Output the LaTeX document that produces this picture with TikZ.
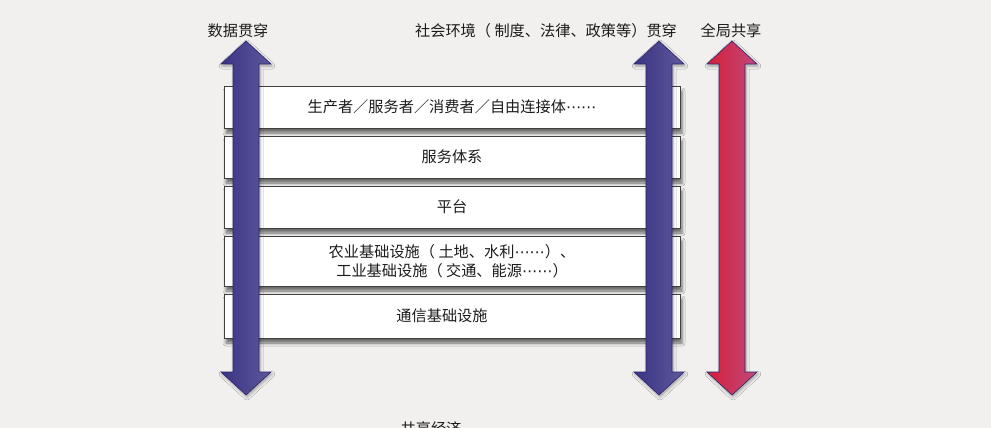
\documentclass[tikz,border=0pt]{standalone}
\usepackage{fontspec}
\setmainfont{Noto Sans CJK SC}
\newfontfamily\dvsym{DejaVu Sans}
\newcommand\midellips{{\dvsym ⋯⋯}}
\usetikzlibrary{shadows.blur}
\definecolor{bg}{HTML}{F1F0EE}
\definecolor{txt}{HTML}{1C1C1C}
\definecolor{bluel}{HTML}{3A3485}
\definecolor{bluer}{HTML}{5E589B}
\definecolor{redl}{HTML}{D61E38}
\definecolor{redr}{HTML}{C04A7C}
\definecolor{arrowline}{HTML}{2A2470}
\newcommand\myvarrow[3]{%
  \path[arrowshape, left color=#2, right color=#3]
    (#1,41) -- ({#1+25},64) -- ({#1+13},64) -- ({#1+13},372) -- ({#1+25},372)
    -- (#1,395) -- ({#1-25},372) -- ({#1-13},372) -- ({#1-13},64) -- ({#1-25},64) -- cycle;}
\tikzset{
  layerbox/.style={draw=black!75, line width=0.8pt, fill=white, minimum width=456pt,
    minimum height=42pt, align=center, text=txt,
    blur shadow={shadow xshift=2pt, shadow yshift=-5pt, shadow blur radius=3pt, shadow opacity=55}},
  arrowshape/.style={draw=arrowline, line width=0.6pt,
    blur shadow={shadow xshift=1pt, shadow yshift=-2pt, shadow blur radius=3pt, shadow opacity=35}},
  lbl/.style={text=txt, inner sep=0pt}
}
\begin{document}
\begin{tikzpicture}[x=1pt, y=-1pt, font=\fontsize{15.2}{19.5}\selectfont]
\path[fill=bg] (0,0) rectangle (991,428);
\useasboundingbox (0,0) rectangle (991,428);
\clip (0,0) rectangle (991,428);

\node[layerbox] (b1) at (452,107) {生产者／服务者／消费者／自由连接体\midellips};
\node[layerbox] (b2) at (452,157) {服务体系};
\node[layerbox] (b3) at (452,207) {平台};
\node[layerbox, minimum height=50pt] (b4) at (452,261) {农业基础设施（ 土地、水利\midellips）、\\工业基础设施（ 交通、能源\midellips）};
\node[layerbox, minimum height=44pt] (b5) at (452,316) {};
\node[lbl] (b5t) at ([xshift=-10pt]b5.center) {通信基础设施};

\myvarrow{246}{bluel}{bluer}
\myvarrow{659}{bluel}{bluer}
\myvarrow{732}{redl}{redr}

\node[lbl] (t1) at (238,31) {数据贯穿};
\node[lbl] (t2) at (546,31) {社会环境（ 制度、法律、政策等）贯穿};
\node[lbl] (t3) at (731,31) {全局共享};
\node[lbl] (t4) at (431,429) {共享经济};
\end{tikzpicture}
\end{document}
